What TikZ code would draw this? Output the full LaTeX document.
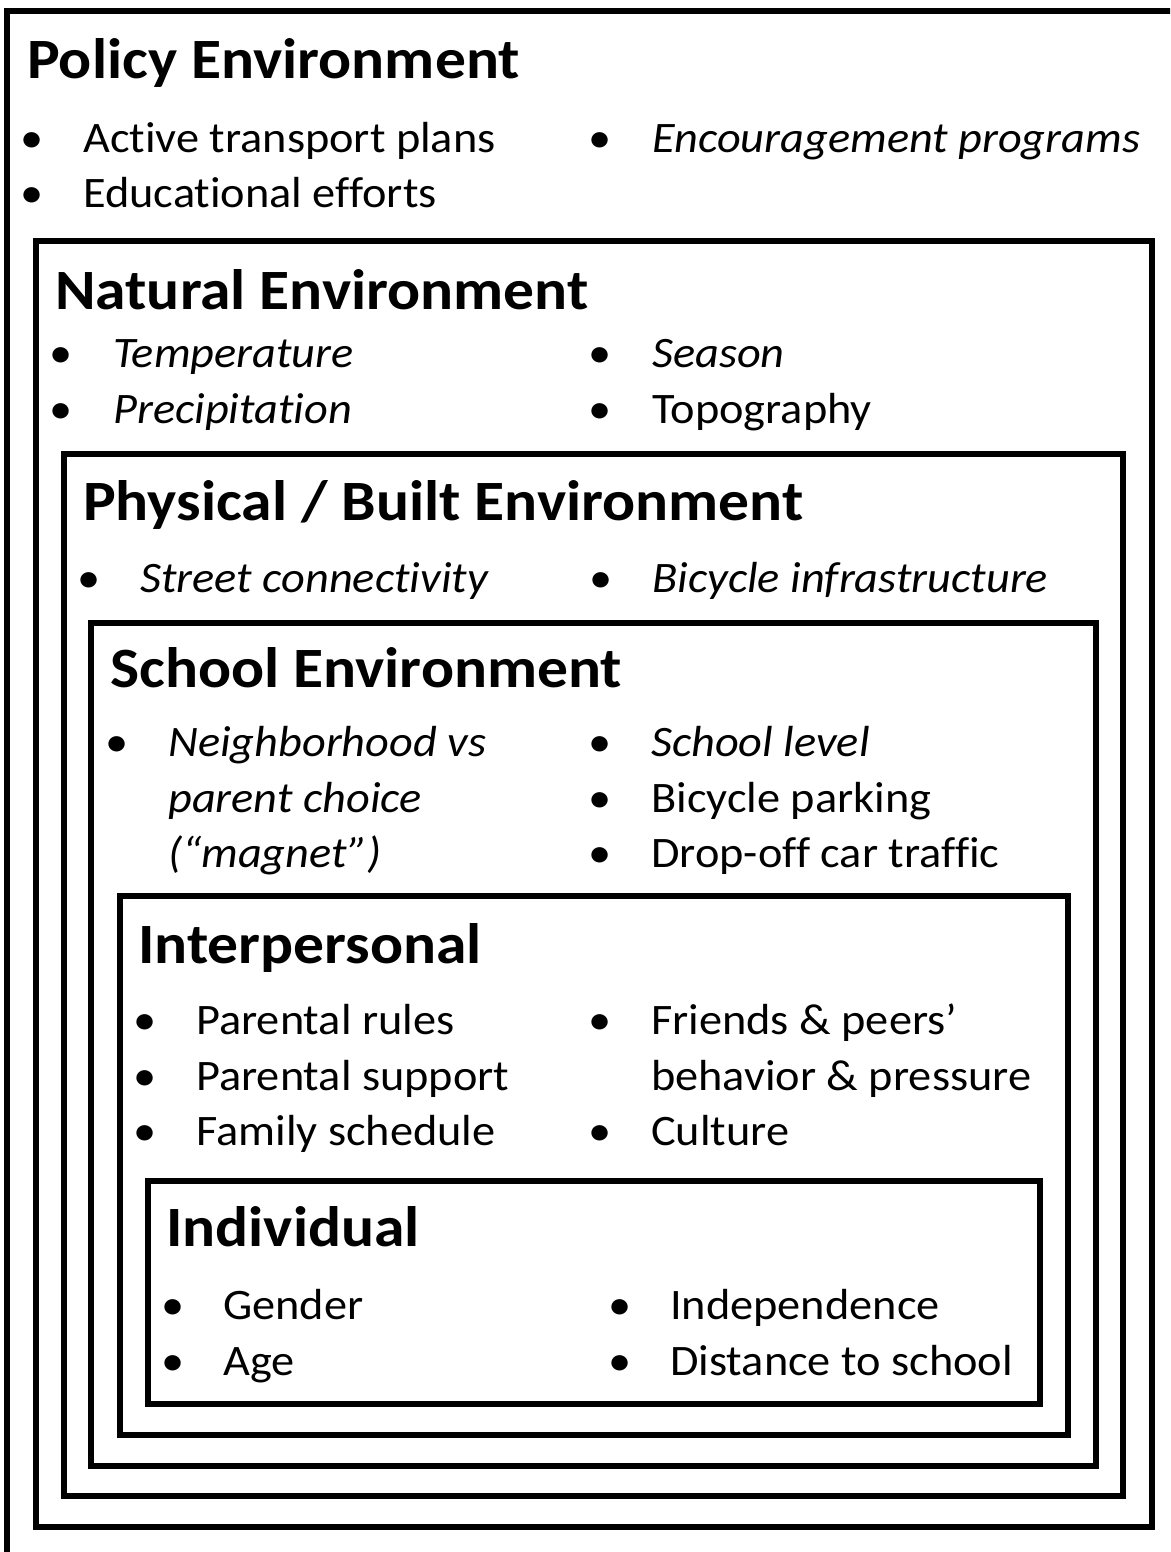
\documentclass[tikz,border=0pt]{standalone}
\usepackage{fontspec}
\setmainfont{Carlito}[Ligatures=NoCommon, FakeStretch=1.065]
\newfontfamily\headfont{Carlito}[Ligatures=NoCommon, FakeStretch=1.08]
\usetikzlibrary{positioning}

\tikzset{
  layer/.style={line width=6pt},
  head/.style={anchor=base west, inner sep=0pt, font=\fontsize{57}{68}\selectfont\headfont\bfseries},
  item/.style={anchor=base west, inner sep=0pt, font=\fontsize{43.5}{52}\selectfont},
  itemit/.style={item, font=\fontsize{43.5}{52}\selectfont\itshape},
  dot/.style={anchor=base, inner sep=0pt, font=\fontsize{43.5}{52}\selectfont},
}

\begin{document}
\begin{tikzpicture}[x=1pt,y=-1pt]
  \useasboundingbox (0,0) rectangle (1170,1552);
  \clip (0,0) rectangle (1170,1552);

  % nested frames, outside in
  \draw[layer] (7,11)    rectangle (1185,1570);
  \draw[layer] (36,241)  rectangle (1152,1527);
  \draw[layer] (64,454)  rectangle (1123,1496);
  \draw[layer] (91,623)  rectangle (1096,1466);
  \draw[layer] (120,896) rectangle (1068,1435);
  \draw[layer] (148,1181) rectangle (1040,1404);

  % policy
  \node[head] (policy) at (27,79) {Policy Environment};
  \node[dot] (pd1) at (32,152) {•};
  \node[item] (plans) at (83,152) {Active transport plans};
  \node[dot] (pd2) at (32,207) {•};
  \node[item] (edu) at (83,207) {Educational efforts};
  \node[dot] (pd3) at (600,152) {•};
  \node[itemit] (encourage) at (652,152) {Encouragement programs};

  % natural
  \node[head] (natural) at (55,309) {Natural Environment};
  \node[dot] (nd1) at (61,367) {•};
  \node[itemit] (temp) at (113,367) {Temperature};
  \node[dot] (nd2) at (61,423) {•};
  \node[itemit] (precip) at (113,423) {Precipitation};
  \node[dot] (nd3) at (600,367) {•};
  \node[itemit] (season) at (652,367) {Season};
  \node[dot] (nd4) at (600,423) {•};
  \node[item] (topo) at (652,423) {Topography};

  % physical / built
  \node[head] (built) at (83,520) {Physical / Built Environment};
  \node[dot] (bd1) at (89,592) {•};
  \node[itemit] (street) at (140,592) {Street connectivity};
  \node[dot] (bd2) at (601,592) {•};
  \node[itemit] (bikeinf) at (652,592) {Bicycle infrastructure};

  % school
  \node[head] (school) at (110,687) {School Environment};
  \node[dot] (sd1) at (117,756) {•};
  \node[itemit] (choice1) at (168,756) {Neighborhood vs};
  \node[itemit] (choice2) at (168,812) {parent choice};
  \node[itemit] (choice3) at (168,867) {(“magnet”)};
  \node[dot] (sd2) at (600,756) {•};
  \node[itemit] (level) at (651,756) {School level};
  \node[dot] (sd3) at (600,812) {•};
  \node[item] (parking) at (651,812) {Bicycle parking};
  \node[dot] (sd4) at (600,867) {•};
  \node[item] (dropoff) at (651,867) {Drop-off car traffic};

  % interpersonal
  \node[head] (inter) at (138,963) {Interpersonal};
  \node[dot] (id1) at (145,1034) {•};
  \node[item] (rules) at (196,1034) {Parental rules};
  \node[dot] (id2) at (145,1090) {•};
  \node[item] (support) at (196,1090) {Parental support};
  \node[dot] (id3) at (145,1145) {•};
  \node[item] (sched) at (196,1145) {Family schedule};
  \node[dot] (id4) at (600,1034) {•};
  \node[item] (peers1) at (651,1034) {Friends \& peers’};
  \node[item] (peers2) at (651,1090) {behavior \& pressure};
  \node[dot] (id5) at (600,1145) {•};
  \node[item] (culture) at (651,1145) {Culture};

  % individual
  \node[head] (indiv) at (166,1246) {Individual};
  \node[dot] (vd1) at (173,1319) {•};
  \node[item] (gender) at (223,1319) {Gender};
  \node[dot] (vd2) at (173,1375) {•};
  \node[item] (age) at (223,1375) {Age};
  \node[dot] (vd3) at (620,1319) {•};
  \node[item] (indep) at (670,1319) {Independence};
  \node[dot] (vd4) at (620,1375) {•};
  \node[item] (dist) at (670,1375) {Distance to school};
\end{tikzpicture}
\end{document}
